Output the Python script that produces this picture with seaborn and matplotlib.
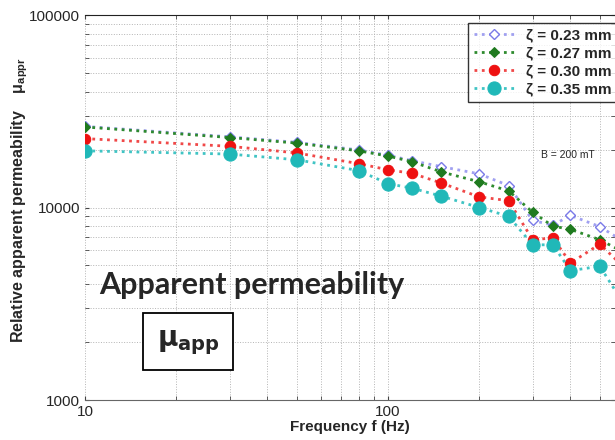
"""Relative apparent permeability vs frequency for four lamination thicknesses."""

import matplotlib.pyplot as plt
import numpy as np
import pandas as pd
import seaborn as sns
from matplotlib.patches import Rectangle
from matplotlib.ticker import LogLocator, NullFormatter


FREQ = [10, 30, 50, 80, 100, 120, 150, 200, 250, 300, 350, 400, 500, 600]
MU_023 = [26400, 23300, 21800, 19900, 18700, 17500, 16300, 14950, 13000, 8560, 8100, 9100, 7950, 6650]
MU_027 = [26200, 23100, 21600, 19700, 18500, 17300, 15300, 13600, 12200, 9450, 8000, 7700, 6800, 5850]
MU_030 = [22800, 20800, 19200, 16900, 15700, 15050, 13400, 11350, 10850, 6800, 6950, 5150, 6450, 4900]
MU_035 = [19700, 18950, 17700, 15550, 13300, 12600, 11450, 10000, 9000, 6400, 6400, 4700, 4950, 3150]
SERIES = ["\u03b6 = 0.23 mm", "\u03b6 = 0.27 mm", "\u03b6 = 0.30 mm", "\u03b6 = 0.35 mm"]

X_TICKS = [10, 100]
X_TICK_LABELS = ["10", "100"]
Y_TICKS = [1000, 10000, 100000]
Y_TICK_LABELS = ["1000", "10000", "100000"]

STYLES = {
    SERIES[0]: dict(color="#a0a0f0", marker="D", markersize=5.5, markerfacecolor="white",
                    markeredgecolor="#7a7ae8", markeredgewidth=1.0),
    SERIES[1]: dict(color="#2e8b2e", marker="D", markersize=5.5, markerfacecolor="#1f7a1f",
                    markeredgecolor="#1f7a1f"),
    SERIES[2]: dict(color="#f04848", marker="o", markersize=7.5, markerfacecolor="#ee1111",
                    markeredgecolor="#ee1111"),
    SERIES[3]: dict(color="#40c4c4", marker="o", markersize=9.5, markerfacecolor="#20b8b8",
                    markeredgecolor="#20b8b8"),
}


def main() -> None:
    sns.set_style("ticks")
    plt.rcParams["font.family"] = ["Liberation Sans", "DejaVu Sans"]
    plt.rcParams["mathtext.fontset"] = "dejavusans"

    df = pd.DataFrame({
        "freq": np.tile(FREQ, 4),
        "mu": MU_023 + MU_027 + MU_030 + MU_035,
        "series": np.repeat(SERIES, len(FREQ)),
    })

    fig = plt.figure(figsize=(6.15, 4.4), dpi=100)
    ax = fig.add_axes([85 / 615, 40 / 440, 1 - 85 / 615, 385 / 440])

    for name in SERIES:
        part = df[df["series"] == name]
        sns.lineplot(data=part, x="freq", y="mu", ax=ax, label=name,
                     linestyle=":", linewidth=2.0, **STYLES[name])

    ax.set_xscale("log")
    ax.set_yscale("log")
    ax.set_xlim(10, 561)
    ax.set_ylim(1000, 100000)
    ax.set_xticks(X_TICKS, X_TICK_LABELS)
    ax.set_yticks(Y_TICKS, Y_TICK_LABELS)
    ax.xaxis.set_minor_locator(LogLocator(base=10, subs=np.arange(2, 10)))
    ax.yaxis.set_minor_locator(LogLocator(base=10, subs=np.arange(2, 10)))
    ax.xaxis.set_minor_formatter(NullFormatter())
    ax.yaxis.set_minor_formatter(NullFormatter())
    ax.tick_params(which="both", direction="in", top=True, right=True,
                   labelsize=11, length=3, color="#444444")
    ax.grid(which="both", linestyle=":", linewidth=0.7, color="#b4b4b4")

    for side in ["left", "right"]:
        ax.spines[side].set_visible(False)
    ax.spines["top"].set_color("#222222")
    ax.spines["bottom"].set_color("#666666")

    ax.set_xlabel("Frequency f (Hz)", fontsize=11, fontweight="bold", labelpad=1)
    ax.set_ylabel(r"Relative apparent permeability    $\mathregular{\mu_{appr}}$",
                  fontsize=11.5, fontweight="bold")
    ax.yaxis.set_label_coords(-0.104, 0.52)

    leg = ax.legend(loc="upper right", bbox_to_anchor=(1.02, 1.0),
                    frameon=True, fancybox=False, edgecolor="black",
                    handlelength=2.6, labelspacing=0.25, borderpad=0.4,
                    prop={"weight": "bold", "size": 11})
    leg.get_frame().set_linewidth(1.0)

    fig.text(568 / 615, 1 - 155 / 440, "B = 200 mT",
             ha="center", va="center", fontsize=7.5)

    fig.text(252 / 615, 1 - 285 / 440, "Apparent permeability",
             ha="center", va="center", fontsize=22, fontweight="bold",
             family=["Lato", "DejaVu Sans"])
    fig.add_artist(Rectangle((143 / 615, 1 - 370 / 440), 90 / 615, 57 / 440,
                             transform=fig.transFigure, facecolor="white",
                             edgecolor="black", linewidth=1.3))
    fig.text(188 / 615, 1 - 343 / 440, r"$\mathbf{\mu_{app}}$",
             ha="center", va="center", fontsize=20)

    fig.savefig("out.png", dpi=100)
    plt.close(fig)


if __name__ == "__main__":
    main()
